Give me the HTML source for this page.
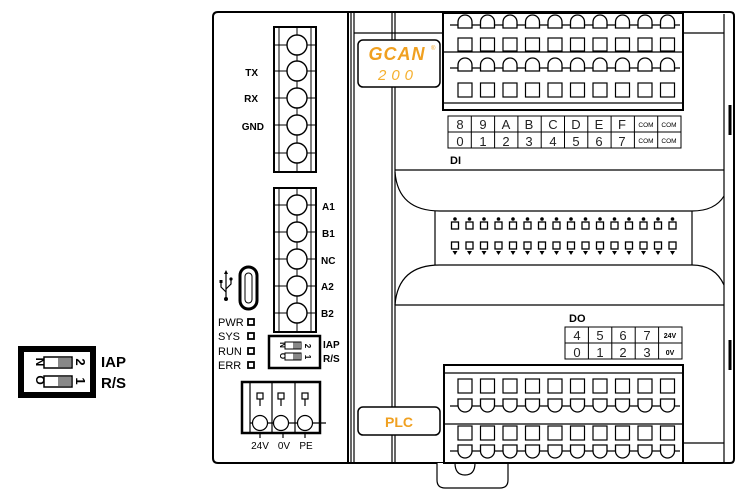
<!DOCTYPE html>
<html><head><meta charset="utf-8"><style>
body{margin:0;background:#fff}
svg{display:block}
text{font-family:"Liberation Sans",sans-serif}
</style></head><body>
<svg width="750" height="499" viewBox="0 0 750 499" xmlns="http://www.w3.org/2000/svg">
<defs>
<g id="keyU"><path d="M-7,-2 a7,7 0 1 1 14,0 v6 h-14 z" fill="#fff" stroke="#000" stroke-width="1.3"/></g>
<g id="keyD"><path d="M-7,2 a7,7 0 1 0 14,0 v-6 h-14 z" fill="#fff" stroke="#000" stroke-width="1.3"/></g>
</defs>
<path d="M218,12 H730 q4,0 4,4 V459 q0,4 -4,4 H218 q-5,0 -5,-5 V17 q0,-5 5,-5 z" fill="#fff" stroke="#000" stroke-width="2"/>
<g stroke="#000" fill="none" stroke-width="1.2">
<line x1="348" y1="12" x2="348" y2="463" stroke-width="2"/>
<line x1="351" y1="12" x2="351" y2="463"/>
<line x1="354" y1="12" x2="354" y2="463"/>
<line x1="392" y1="12" x2="392" y2="40"/><line x1="395" y1="12" x2="395" y2="40"/>
<line x1="392" y1="87" x2="392" y2="407"/><line x1="395" y1="87" x2="395" y2="407"/>
<line x1="392" y1="435" x2="392" y2="463"/><line x1="395" y1="435" x2="395" y2="463"/>
<line x1="354" y1="33" x2="443" y2="33"/><line x1="683" y1="33" x2="724" y2="33"/>
<line x1="724" y1="14" x2="724" y2="462"/>
<line x1="730" y1="105" x2="730" y2="135" stroke-width="3"/>
<line x1="730" y1="340" x2="730" y2="370" stroke-width="3"/>
<line x1="395" y1="170" x2="724" y2="170"/>
<line x1="395" y1="305" x2="724" y2="305"/>
<line x1="683" y1="443" x2="724" y2="443"/>
<path d="M395,172 Q398,211 440,211 H692 Q715,211 724,196"/>
<path d="M395,305 Q398,265 440,265 H692 Q715,265 724,285"/>
<line x1="435" y1="211" x2="435" y2="265"/><line x1="692" y1="211" x2="692" y2="265"/>
</g>
<rect x="358" y="40" width="82" height="47" rx="5" fill="#fff" stroke="#000" stroke-width="1.5"/>
<text x="397" y="60" font-size="18" fill="#f0a020" text-anchor="middle" font-weight="bold" font-style="italic" letter-spacing="1">GCAN</text>
<text x="431" y="50" font-size="6" fill="#f0a020">®</text>
<text x="398" y="80" font-size="15" fill="#f5b030" text-anchor="middle" letter-spacing="5" font-style="italic">200</text>
<rect x="358" y="407" width="82" height="28" rx="5" fill="#fff" stroke="#000" stroke-width="1.5"/>
<text x="399" y="427" font-size="14" font-weight="bold" fill="#f0a020" text-anchor="middle">PLC</text>
<rect x="443" y="13" width="240" height="97" fill="#fff" stroke="#000" stroke-width="2"/>
<g stroke="#000" stroke-width="1.2" fill="none">
<line x1="443" y1="52" x2="683" y2="52"/><line x1="443" y1="103" x2="683" y2="103"/>
<line x1="450" y1="25" x2="680" y2="25"/><line x1="450" y1="68" x2="680" y2="68"/>
</g>
<g id="topcols">
<g transform="translate(465,0)"><use href="#keyU" y="24"/><rect x="-7" y="38" width="14" height="13" fill="#fff" stroke="#000" stroke-width="1.2"/><use href="#keyU" y="67"/><rect x="-7" y="83" width="14" height="14" fill="#fff" stroke="#000" stroke-width="1.2"/></g>
</g>
<use href="#topcols" x="22.5"/><use href="#topcols" x="45"/><use href="#topcols" x="67.5"/><use href="#topcols" x="90"/><use href="#topcols" x="112.5"/><use href="#topcols" x="135"/><use href="#topcols" x="157.5"/><use href="#topcols" x="180"/><use href="#topcols" x="202.5"/>
<g stroke="#000" stroke-width="1" fill="none">
<rect x="448" y="116" width="233" height="32"/><line x1="448" y1="132" x2="681" y2="132"/>
<line x1="471.3" y1="116" x2="471.3" y2="148"/><line x1="494.6" y1="116" x2="494.6" y2="148"/><line x1="517.9" y1="116" x2="517.9" y2="148"/><line x1="541.2" y1="116" x2="541.2" y2="148"/><line x1="564.5" y1="116" x2="564.5" y2="148"/><line x1="587.8" y1="116" x2="587.8" y2="148"/><line x1="611.1" y1="116" x2="611.1" y2="148"/><line x1="634.4" y1="116" x2="634.4" y2="148"/><line x1="657.7" y1="116" x2="657.7" y2="148"/>
</g>
<g font-size="13" text-anchor="middle" fill="#222">
<text x="460" y="129">8</text><text x="483" y="129">9</text><text x="506" y="129">A</text><text x="529" y="129">B</text><text x="553" y="129">C</text><text x="576" y="129">D</text><text x="599" y="129">E</text><text x="622" y="129">F</text>
<text x="460" y="146">0</text><text x="483" y="146">1</text><text x="506" y="146">2</text><text x="529" y="146">3</text><text x="553" y="146">4</text><text x="576" y="146">5</text><text x="599" y="146">6</text><text x="622" y="146">7</text>
</g>
<g font-size="6.5" text-anchor="middle"><text x="646" y="127">COM</text><text x="669" y="127">COM</text><text x="646" y="143">COM</text><text x="669" y="143">COM</text></g>
<text x="450" y="164" font-size="11" font-weight="bold">DI</text>
<g id="led"><circle cx="455" cy="219" r="1.8"/><rect x="451.5" y="222" width="7" height="7" fill="#fff" stroke="#000" stroke-width="1.3"/><rect x="451.5" y="242" width="7" height="7" fill="#fff" stroke="#000" stroke-width="1.3"/><path d="M452.5,251 h5 l-2.5,4 z"/></g>
<use href="#led" x="14.5"/><use href="#led" x="29"/><use href="#led" x="43.5"/><use href="#led" x="58"/><use href="#led" x="72.5"/><use href="#led" x="87"/><use href="#led" x="101.5"/><use href="#led" x="116"/><use href="#led" x="130.5"/><use href="#led" x="145"/><use href="#led" x="159.5"/><use href="#led" x="174"/><use href="#led" x="188.5"/><use href="#led" x="203"/><use href="#led" x="217.5"/>
<text x="569" y="322" font-size="11" font-weight="bold">DO</text>
<g stroke="#000" stroke-width="1" fill="none">
<rect x="565" y="327" width="117" height="32"/><line x1="565" y1="343" x2="682" y2="343"/>
<line x1="588.4" y1="327" x2="588.4" y2="359"/><line x1="611.8" y1="327" x2="611.8" y2="359"/><line x1="635.2" y1="327" x2="635.2" y2="359"/><line x1="658.6" y1="327" x2="658.6" y2="359"/>
</g>
<g font-size="13" text-anchor="middle" fill="#222">
<text x="577" y="340">4</text><text x="600" y="340">5</text><text x="623" y="340">6</text><text x="647" y="340">7</text>
<text x="577" y="357">0</text><text x="600" y="357">1</text><text x="623" y="357">2</text><text x="647" y="357">3</text>
</g>
<g font-size="7" text-anchor="middle" font-weight="bold"><text x="670" y="338">24V</text><text x="670" y="355">0V</text></g>
<path d="M437,463 V480 q0,8 8,8 H500 q8,0 8,-8 V463" fill="#fff" stroke="#000" stroke-width="1.2"/>
<path d="M455,463 q0,12 10,12 q10,0 10,-12" fill="none" stroke="#000" stroke-width="1.2"/>
<rect x="444" y="365" width="239" height="98" fill="#fff" stroke="#000" stroke-width="2"/>
<g stroke="#000" stroke-width="1.2" fill="none">
<line x1="444" y1="373" x2="683" y2="373"/><line x1="444" y1="424" x2="683" y2="424"/>
<line x1="450" y1="406" x2="680" y2="406"/><line x1="450" y1="451" x2="680" y2="451"/>
</g>
<g id="botcols">
<g transform="translate(465,0)"><rect x="-7" y="379" width="14" height="14" fill="#fff" stroke="#000" stroke-width="1.2"/><use href="#keyD" y="403"/><rect x="-7" y="426" width="14" height="14" fill="#fff" stroke="#000" stroke-width="1.2"/><use href="#keyD" y="449"/></g>
</g>
<use href="#botcols" x="22.5"/><use href="#botcols" x="45"/><use href="#botcols" x="67.5"/><use href="#botcols" x="90"/><use href="#botcols" x="112.5"/><use href="#botcols" x="135"/><use href="#botcols" x="157.5"/><use href="#botcols" x="180"/><use href="#botcols" x="202.5"/>
<g stroke="#000" fill="none">
<rect x="274" y="27" width="42" height="145" stroke-width="2"/>
<line x1="279" y1="27" x2="279" y2="172" stroke-width="1"/><line x1="311" y1="27" x2="311" y2="172" stroke-width="1"/>
<line x1="297" y1="27" x2="297" y2="172" stroke-width="1"/>
<g stroke-width="1"><line x1="274" y1="45" x2="316" y2="45"/><line x1="274" y1="71" x2="316" y2="71"/><line x1="274" y1="98" x2="316" y2="98"/><line x1="274" y1="125" x2="316" y2="125"/><line x1="274" y1="153" x2="316" y2="153"/></g>
<g fill="#fff" stroke-width="1.4"><circle cx="297" cy="45" r="10"/><circle cx="297" cy="71" r="10"/><circle cx="297" cy="98" r="10"/><circle cx="297" cy="125" r="10"/><circle cx="297" cy="153" r="10"/></g>
<rect x="274" y="188" width="42" height="144" stroke-width="2"/>
<line x1="279" y1="188" x2="279" y2="332" stroke-width="1"/><line x1="311" y1="188" x2="311" y2="332" stroke-width="1"/>
<line x1="297" y1="188" x2="297" y2="332" stroke-width="1"/>
<g stroke-width="1"><line x1="274" y1="205" x2="316" y2="205"/><line x1="274" y1="232" x2="316" y2="232"/><line x1="274" y1="259" x2="316" y2="259"/><line x1="274" y1="286" x2="316" y2="286"/><line x1="274" y1="313" x2="316" y2="313"/></g>
<g fill="#fff" stroke-width="1.4"><circle cx="297" cy="205" r="10"/><circle cx="297" cy="232" r="10"/><circle cx="297" cy="259" r="10"/><circle cx="297" cy="286" r="10"/><circle cx="297" cy="313" r="10"/></g>
</g>
<g font-size="10" font-weight="bold" text-anchor="end"><text x="258" y="76">TX</text><text x="258" y="102">RX</text><text x="264" y="130">GND</text></g>
<g font-size="10" font-weight="bold"><text x="322" y="210">A1</text><text x="322" y="237">B1</text><text x="321" y="264">NC</text><text x="321" y="290">A2</text><text x="321" y="317">B2</text></g>
<rect x="240" y="267" width="17" height="42" rx="8.5" fill="none" stroke="#000" stroke-width="3"/>
<rect x="245" y="273" width="7" height="30" rx="3.5" fill="none" stroke="#000" stroke-width="1"/>
<g stroke="#000" stroke-width="1.2" fill="none"><line x1="226" y1="273" x2="226" y2="299"/><path d="M226,292 l-5,-5 v-5"/><path d="M226,289 l5,-5 v-4"/></g>
<circle cx="226" cy="299" r="2"/><path d="M224,274 l2,-4 l2,4 z"/><rect x="219.5" y="280" width="3" height="3"/><circle cx="231" cy="279" r="1.6"/>
<g font-size="11"><text x="218" y="326">PWR</text><text x="218" y="340">SYS</text><text x="218" y="355">RUN</text><text x="218" y="369">ERR</text></g>
<g fill="none" stroke="#000" stroke-width="1.8"><rect x="248" y="319" width="6" height="6"/><rect x="248" y="333" width="6" height="6"/><rect x="248" y="348" width="6" height="6"/><rect x="248" y="362" width="6" height="6"/></g>
<rect x="269" y="336" width="51" height="32" fill="#fff" stroke="#000" stroke-width="2.5"/>
<text transform="translate(280,345) rotate(90)" font-size="8" font-weight="bold" text-anchor="middle">N</text>
<text transform="translate(280,356) rotate(90)" font-size="8" font-weight="bold" text-anchor="middle">O</text>
<rect x="285" y="342" width="16" height="7" fill="#fff" stroke="#000"/><rect x="293" y="342.5" width="8" height="6" fill="#888"/>
<rect x="285" y="353" width="16" height="7" fill="#fff" stroke="#000"/><rect x="293" y="353.5" width="8" height="6" fill="#888"/>
<text transform="translate(305,346) rotate(90)" font-size="8" font-weight="bold" text-anchor="middle">2</text>
<text transform="translate(305,357) rotate(90)" font-size="8" font-weight="bold" text-anchor="middle">1</text>
<g font-size="10" font-weight="bold"><text x="323" y="348">IAP</text><text x="323" y="362">R/S</text></g>
<rect x="242" y="382" width="78" height="51" fill="#fff" stroke="#000" stroke-width="2.5"/>
<g stroke="#000" stroke-width="1.2" fill="none">
<line x1="250" y1="382" x2="250" y2="433"/><line x1="272" y1="382" x2="272" y2="433"/><line x1="295" y1="382" x2="295" y2="433"/>
<line x1="250" y1="423" x2="326" y2="423"/>
<rect x="257" y="393" width="6" height="6"/><rect x="278" y="393" width="6" height="6"/><rect x="302" y="393" width="6" height="6"/>
<line x1="260" y1="399" x2="260" y2="406"/><line x1="281" y1="399" x2="281" y2="406"/><line x1="305" y1="399" x2="305" y2="406"/>
<circle cx="260" cy="423" r="7.5" fill="#fff"/><circle cx="281" cy="423" r="7.5" fill="#fff"/><circle cx="305" cy="423" r="7.5" fill="#fff"/>
<line x1="260" y1="433" x2="260" y2="438"/><line x1="283" y1="433" x2="283" y2="438"/><line x1="305" y1="433" x2="305" y2="438"/>
</g>
<g font-size="10" text-anchor="middle"><text x="260" y="449">24V</text><text x="284" y="449">0V</text><text x="306" y="449">PE</text></g>
<rect x="18" y="346" width="78" height="52" fill="#000"/>
<rect x="24" y="352" width="66" height="40" fill="#fff"/>
<text transform="translate(36,362) rotate(90)" font-size="12" font-weight="bold" text-anchor="middle">N</text>
<text transform="translate(36,380) rotate(90)" font-size="12" font-weight="bold" text-anchor="middle">O</text>
<rect x="44" y="357" width="28" height="11" fill="#fff" stroke="#000" stroke-width="1.5"/><rect x="58" y="358" width="13" height="9" fill="#888"/>
<rect x="44" y="376" width="28" height="11" fill="#fff" stroke="#000" stroke-width="1.5"/><rect x="58" y="377" width="13" height="9" fill="#888"/>
<text transform="translate(76,362) rotate(90)" font-size="13" font-weight="bold" text-anchor="middle">2</text>
<text transform="translate(76,381) rotate(90)" font-size="13" font-weight="bold" text-anchor="middle">1</text>
<g font-size="15" font-weight="bold"><text x="101" y="367">IAP</text><text x="101" y="388">R/S</text></g>
</svg>
</body></html>
